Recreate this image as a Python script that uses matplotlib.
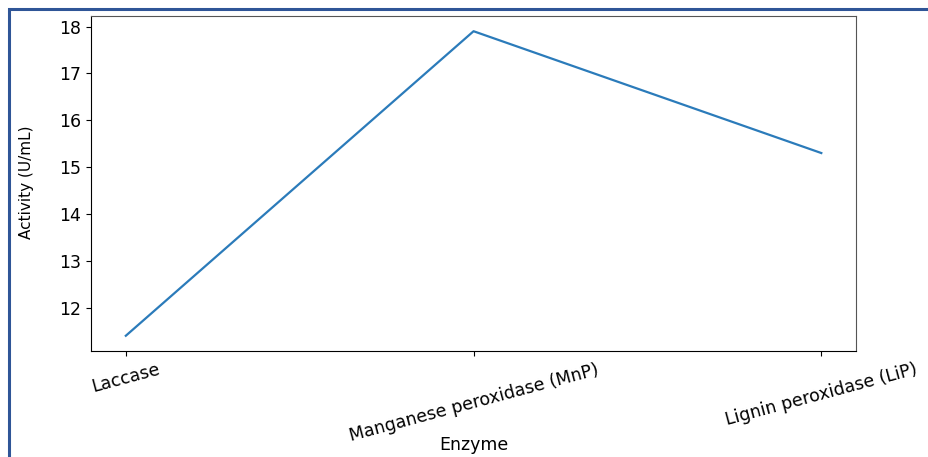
import matplotlib
matplotlib.use("Agg")
from matplotlib import pyplot as plt
from matplotlib.patches import Rectangle

# enzyme activity values (U/mL)
enzymes = ["Laccase", "Manganese peroxidase (MnP)", "Lignin peroxidase (LiP)"]
activity = [11.4, 17.9, 15.3]

fig = plt.figure(figsize=(9.29, 4.57), dpi=100)
ax = fig.add_axes([0.098, 0.232, 0.8235, 0.733])

ax.plot(enzymes, activity, color="#2b7bba", linewidth=1.6)

ax.set_yticks([12, 13, 14, 15, 16, 17, 18])
ax.tick_params(axis="both", labelsize=12.5)
plt.setp(ax.get_xticklabels(), rotation=15)
ax.set_xlabel("Enzyme", fontsize=12.5)
ax.set_ylabel("Activity (U/mL)", fontsize=11,
              family=["Liberation Sans Narrow", "DejaVu Sans"])
ax.yaxis.set_label_coords(-0.074, 0.505)
ax.xaxis.set_label_coords(0.5, -0.255)
for side in ["top", "right"]:
    ax.spines[side].set_color("#555555")

# blue frame around the figure
fig.patches.append(Rectangle((8.5 / 929, -0.1), 1.2, 1.1 - 9.5 / 457,
                             transform=fig.transFigure, fill=False,
                             edgecolor="#2f5597", linewidth=2.2,
                             clip_on=False))

fig.savefig("out.png", dpi=100)
